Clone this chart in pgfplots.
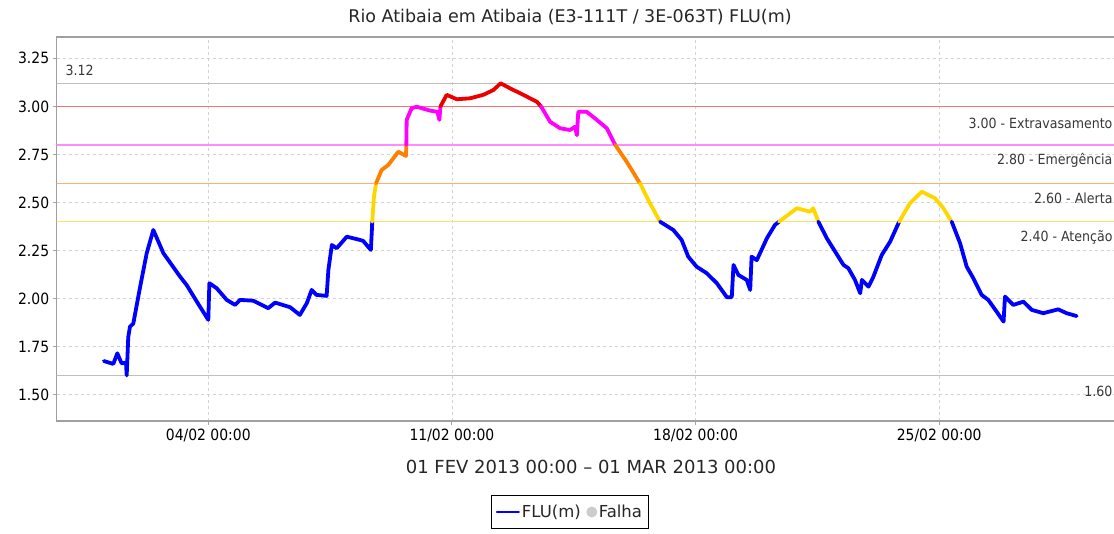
\documentclass[border=0pt]{standalone}
\usepackage{pgfplots}
\pgfplotsset{compat=1.18}
\usepackage{fontspec}
\setmainfont{DejaVu Sans}
\newfontfamily\condfont{DejaVu Sans Condensed}
\definecolor{fluBlue}{RGB}{0,0,255}
\definecolor{fluYellow}{RGB}{255,215,0}
\definecolor{fluOrange}{RGB}{255,128,0}
\definecolor{fluMagenta}{RGB}{255,0,255}
\definecolor{fluRed}{RGB}{235,0,0}
\definecolor{thrRed}{RGB}{255,110,110}
\definecolor{thrMagenta}{RGB}{255,140,255}
\definecolor{thrOrange}{RGB}{255,176,112}
\definecolor{thrYellow}{RGB}{255,228,100}
\definecolor{thrGray}{RGB}{192,192,192}
\definecolor{lblGray}{RGB}{55,55,55}
\begin{document}
\begin{tikzpicture}[x=1pt,y=1pt]
\useasboundingbox (0,0) rectangle (1114,533);
\node[font=\fontsize{17.5}{20}\selectfont, text=black!85] at (570,516) {Rio Atibaia em Atibaia (E3-111T / 3E-063T) FLU(m)};
\node[font=\fontsize{18}{21}\selectfont, text=black!85] at (591,66.3) {01 FEV 2013 00:00 – 01 MAR 2013 00:00};
\begin{axis}[
  at={(56.7pt,112pt)}, anchor=south west,
  scale only axis, width=1068.9pt, height=384pt,
  xmin=-1.356, xmax=29.356, ymin=1.363, ymax=3.361,
  xtick={3,10,17,24},
  xticklabels={04/02 00:00,11/02 00:00,18/02 00:00,25/02 00:00},
  ytick={1.5,1.75,2,2.25,2.5,2.75,3,3.25},
  yticklabel style={/pgf/number format/.cd, fixed, fixed zerofill, precision=2, assume math mode=true},
  ticklabel style={font=\condfont\fontsize{15.5}{18}\selectfont, text=black},
  xtick pos=lower, ytick pos=left,
  tick align=outside, major tick length=4pt,
  tick style={draw=gray!70, line width=1pt},
  axis line style={draw=gray!75, line width=1.2pt},
  grid=major,
  major grid style={dash pattern=on 3pt off 3pt, draw=gray!35, line width=0.8pt},
  legend columns=2,
  legend style={at={(0.4802,-0.237)}, anchor=center, draw=black, line width=0.9pt,
    font=\fontsize{16.5}{19}\selectfont, text=black!85, inner xsep=4pt, inner ysep=7.5pt,
    /tikz/every even column/.append style={column sep=4pt}},
  every axis plot post/.append style={line join=round, line cap=round},
]
% thresholds
\addplot[forget plot, color=thrGray, line width=1.4pt] coordinates {(-2,3.12) (30,3.12)};
\addplot[forget plot, color=thrRed, line width=1.4pt] coordinates {(-2,3.00) (30,3.00)};
\addplot[forget plot, color=thrMagenta, line width=1.4pt] coordinates {(-2,2.80) (30,2.80)};
\addplot[forget plot, color=thrOrange, line width=1.4pt] coordinates {(-2,2.60) (30,2.60)};
\addplot[forget plot, color=thrYellow, line width=1.4pt] coordinates {(-2,2.40) (30,2.40)};
\addplot[forget plot, color=thrGray, line width=1.4pt] coordinates {(-2,1.60) (30,1.60)};
% series
\addplot[forget plot, color=fluBlue, line width=3.8pt] coordinates {
(0,1.675) (0.27,1.66) (0.385,1.715) (0.51,1.663) (0.635,1.667) (0.655,1.60) (0.70,1.80) (0.75,1.854) (0.845,1.87) (1.04,2.06) (1.23,2.236) (1.42,2.357) (1.71,2.236) (2.19,2.114) (2.38,2.07) (2.67,1.984) (3.0,1.889) (3.03,2.08) (3.24,2.054) (3.53,1.993) (3.77,1.967) (3.91,1.993) (4.29,1.989) (4.72,1.95) (4.92,1.979) (5.35,1.955) (5.63,1.915) (5.83,1.976) (5.97,2.045) (6.11,2.019) (6.40,2.014) (6.45,2.149) (6.55,2.279) (6.69,2.262) (6.98,2.322) (7.36,2.305) (7.45,2.30) (7.67,2.253) (7.70,2.357) (7.71,2.40)};
\addplot[forget plot, color=fluYellow, line width=3.8pt] coordinates {(7.71,2.40) (7.76,2.53) (7.82,2.60)};
\addplot[forget plot, color=fluOrange, line width=3.8pt] coordinates {(7.82,2.60) (7.98,2.669) (8.17,2.695) (8.46,2.764) (8.68,2.742) (8.69,2.80)};
\addplot[forget plot, color=fluMagenta, line width=3.8pt] coordinates {(8.69,2.80) (8.70,2.93) (8.84,2.99) (8.99,2.998) (9.37,2.978) (9.58,2.972) (9.64,2.93) (9.67,3.00)};
\addplot[forget plot, color=fluRed, line width=3.8pt] coordinates {(9.67,3.00) (9.85,3.06) (10.14,3.037) (10.52,3.042) (10.90,3.06) (11.19,3.085) (11.40,3.12) (11.67,3.094) (12.05,3.06) (12.44,3.024) (12.56,3.00)};
\addplot[forget plot, color=fluMagenta, line width=3.8pt] coordinates {(12.56,3.00) (12.82,2.92) (13.11,2.886) (13.39,2.877) (13.54,2.894) (13.59,2.85) (13.63,2.972) (13.87,2.972) (14.16,2.93) (14.45,2.886) (14.69,2.80)};
\addplot[forget plot, color=fluOrange, line width=3.8pt] coordinates {(14.69,2.80) (15.02,2.712) (15.40,2.60)};
\addplot[forget plot, color=fluYellow, line width=3.8pt] coordinates {(15.40,2.60) (15.69,2.496) (15.98,2.40)};
\addplot[forget plot, color=fluBlue, line width=3.8pt] coordinates {(15.98,2.40) (16.36,2.357) (16.60,2.305) (16.79,2.218) (17.03,2.166) (17.32,2.132) (17.61,2.08) (17.90,2.007) (18.04,2.007) (18.09,2.175) (18.23,2.123) (18.47,2.097) (18.57,2.045) (18.61,2.218) (18.76,2.20) (19.05,2.314) (19.28,2.383) (19.40,2.40)};
\addplot[forget plot, color=fluYellow, line width=3.8pt] coordinates {(19.40,2.40) (19.91,2.47) (20.29,2.452) (20.38,2.47) (20.53,2.40)};
\addplot[forget plot, color=fluBlue, line width=3.8pt] coordinates {(20.53,2.40) (20.77,2.314) (21.25,2.175) (21.39,2.158) (21.58,2.097) (21.73,2.028) (21.78,2.097) (21.97,2.062) (22.11,2.114) (22.35,2.227) (22.59,2.296) (22.85,2.40)};
\addplot[forget plot, color=fluYellow, line width=3.8pt] coordinates {(22.85,2.40) (23.16,2.496) (23.50,2.556) (23.69,2.539) (23.88,2.522) (24.12,2.47) (24.36,2.40)};
\addplot[forget plot, color=fluBlue, line width=3.8pt] coordinates {(24.36,2.40) (24.60,2.288) (24.79,2.166) (24.98,2.106) (25.22,2.019) (25.41,1.993) (25.65,1.932) (25.85,1.88) (25.89,2.01) (26.13,1.967) (26.42,1.984) (26.66,1.941) (26.99,1.924) (27.42,1.944) (27.66,1.924) (27.95,1.909)};
% legend
\addlegendimage{legend image code/.code={\draw[fluBlue, line width=2pt] (0pt,0pt) -- (22pt,0pt);}}
\addlegendentry{FLU(m)}
\addlegendimage{only marks, mark=*, mark size=5pt, draw=gray!40, fill=gray!40}
\addlegendentry{Falha}
% labels
\node[anchor=west, font=\condfont\fontsize{14}{16}\selectfont, text=lblGray] at (axis cs:-1.204,3.189) {3.12};
\node[anchor=east, font=\condfont\fontsize{14}{16}\selectfont, text=lblGray] at (axis cs:29.08,2.914) {3.00 - Extravasamento};
\node[anchor=east, font=\condfont\fontsize{14}{16}\selectfont, text=lblGray] at (axis cs:29.08,2.721) {2.80 - Emergência};
\node[anchor=east, font=\condfont\fontsize{14}{16}\selectfont, text=lblGray] at (axis cs:29.08,2.523) {2.60 - Alerta};
\node[anchor=east, font=\condfont\fontsize{14}{16}\selectfont, text=lblGray] at (axis cs:29.08,2.320) {2.40 - Atenção};
\node[anchor=east, font=\condfont\fontsize{14}{16}\selectfont, text=lblGray] at (axis cs:29.08,1.519) {1.60};
\end{axis}
\end{tikzpicture}
\end{document}
